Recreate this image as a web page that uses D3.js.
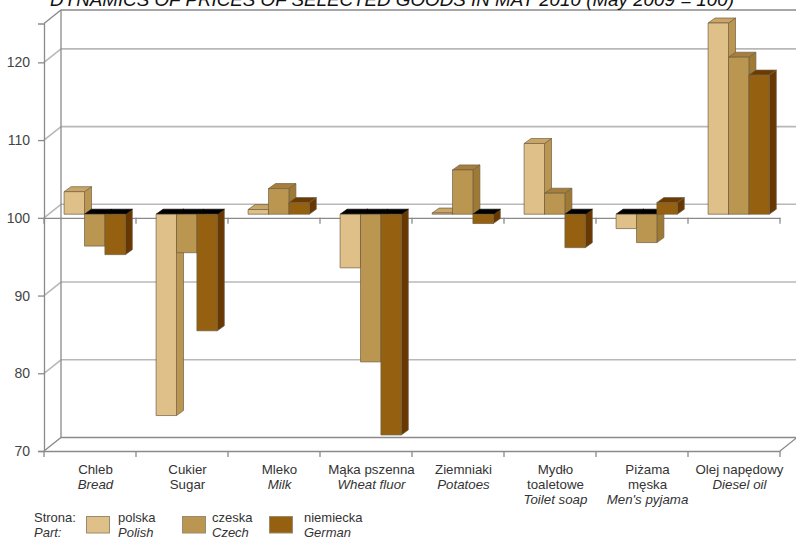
<!DOCTYPE html>
<html>
<head>
<meta charset="utf-8">
<style>
html, body { margin: 0; padding: 0; background: #fff; }
svg { display: block; font-family: "Liberation Sans", Arial, sans-serif; }
.axis text { font-size: 14px; fill: #444; }
.grid { stroke: #b8b8b8; stroke-width: 1.6; fill: none; }
.frame { stroke: #8a8a8a; stroke-width: 1.3; fill: none; }
</style>
<script src="https://cdn.jsdelivr.net/npm/d3@7"></script>
</head>
<body>
<svg id="chart" width="796" height="538"></svg>
<script>
const categories = ["Chleb", "Cukier", "Mleko", "Mąka pszenna", "Ziemniaki", "Mydło toaletowe", "Piżama męska", "Olej napędowy"];
const labelLines = [
  ["Chleb"], ["Cukier"], ["Mleko"], ["Mąka pszenna"], ["Ziemniaki"],
  ["Mydło", "toaletowe"], ["Piżama", "męska"], ["Olej napędowy"]
];
const labelEnglish = ["Bread", "Sugar", "Milk", "Wheat fluor", "Potatoes", "Toilet soap", "Men's pyjama", "Diesel oil"];
const uprightEnglish = ["Sugar"];
const seriesNames = ["polska", "czeska", "niemiecka"];
const seriesEnglish = ["Polish", "Czech", "German"];
const polish = [102.9, 74.1, 100.6, 93.1, 100.15, 109.1, 98.15, 124.6];
const czech = [95.9, 95.05, 103.3, 81, 105.7, 102.7, 96.35, 120.2];
const german = [94.8, 85, 101.5, 71.6, 98.8, 95.7, 101.5, 117.9];
const seriesValues = [polish, czech, german];
const frontColors = ["#dfc088", "#bb9650", "#956110"];
const sideColors = ["#bb9650", "#a07a35", "#683800"];
const capColors = ["#c9a566", "#a67f3c", "#6b3b00"];
const yTicks = [70, 80, 90, 100, 110, 120];

const svg = d3.select("#chart");

const y = d3.scaleLinear().domain([70, 125]).range([451, 23.5]);
const x = d3.scaleBand().domain(categories).range([44, 780]);
const inner = d3.scaleBand().domain(seriesNames).range([15.4, 76.6]);

// Offset of the rear wall and of the bar row inside the box
const wall = { dx: 17, dy: -13.5 };
const row = { dx: 4.7, dy: -3.6 };
const depth = { dx: 7, dy: -5 };

// Rear wall gridlines and their connectors to the front edge
const walls = svg.append("g");
yTicks.forEach(t => {
  const yy = y(t);
  if (t !== 70) {
    walls.append("line").attr("class", "grid")
      .attr("x1", 44).attr("y1", yy).attr("x2", 44 + wall.dx).attr("y2", yy + wall.dy);
    walls.append("line").attr("class", "grid")
      .attr("x1", 44 + wall.dx).attr("y1", yy + wall.dy).attr("x2", 780 + wall.dx).attr("y2", yy + wall.dy);
  }
});
walls.append("path").attr("class", "frame")
  .attr("d", `M44,${y(70)}L${44 + wall.dx},${y(70) + wall.dy}L${780 + wall.dx},${y(70) + wall.dy}L${780},${y(70)}`);
walls.append("path").attr("class", "frame")
  .attr("d", `M44,${y(125)}L${44 + wall.dx},${y(125) + wall.dy}L${780 + wall.dx},${y(125) + wall.dy}`);
walls.append("line").attr("class", "frame")
  .attr("x1", 44 + wall.dx).attr("y1", y(125) + wall.dy)
  .attr("x2", 44 + wall.dx).attr("y2", y(70) + wall.dy);

// Value axis along the front left edge
const yAxis = svg.append("g").attr("class", "axis")
  .attr("transform", "translate(44,0)")
  .call(d3.axisLeft(y).tickValues(yTicks).tickSize(6).tickPadding(8));
yAxis.select(".domain").attr("stroke", "#8a8a8a").attr("stroke-width", 1.3);
yAxis.selectAll(".tick line").attr("stroke", "#8a8a8a").attr("stroke-width", 1.3);

// Category ticks on the floor at 100 and on the bottom edge
[100, 70].forEach(t => {
  const g = svg.append("g").attr("transform", `translate(0,${y(t)})`)
    .call(d3.axisBottom(x).tickValues([]).tickSize(0));
  g.select(".domain").attr("stroke", "#8a8a8a").attr("stroke-width", 1.3);
  g.selectAll(".boundary").data(d3.range(categories.length + 1)).join("line")
    .attr("x1", i => x.range()[0] + i * x.step()).attr("x2", i => x.range()[0] + i * x.step())
    .attr("y1", 0).attr("y2", 6)
    .attr("stroke", "#8a8a8a").attr("stroke-width", 1.3);
});

// Extruded bars, drawn series by series so nearer neighbours overlap
const baseline = y(100);
const bars = svg.append("g").attr("transform", `translate(${row.dx},${row.dy})`);
categories.forEach((c, ci) => {
  seriesNames.forEach((s, si) => {
    const v = seriesValues[si][ci];
    const x0 = x(c) + inner(s);
    const x1 = x0 + inner.bandwidth();
    const yv = y(v);
    const top = Math.min(yv, baseline);
    const bottom = Math.max(yv, baseline);
    const g = bars.append("g").attr("stroke", "#6f5f45").attr("stroke-width", 0.7).attr("stroke-linejoin", "round");
    g.append("path").attr("fill", sideColors[si])
      .attr("d", `M${x1},${top}L${x1 + depth.dx},${top + depth.dy}L${x1 + depth.dx},${bottom + depth.dy}L${x1},${bottom}Z`);
    // A falling bar shows the dark inside of its opening instead of a lit cap
    g.append("path").attr("fill", v < 100 ? "#000" : capColors[si])
      .attr("stroke", v < 100 ? "#000" : null)
      .attr("d", `M${x0},${top}L${x0 + depth.dx},${top + depth.dy}L${x1 + depth.dx},${top + depth.dy}L${x1},${top}Z`);
    g.append("rect").attr("fill", frontColors[si])
      .attr("x", x0).attr("y", top).attr("width", x1 - x0).attr("height", bottom - top);
  });
});

// Category captions: Polish name, then the English one
const captions = svg.append("g").attr("text-anchor", "middle").attr("font-size", 13.3).attr("fill", "#333");
categories.forEach((c, ci) => {
  const cx = x(c) + x.bandwidth() / 2 + 5.5;
  const lines = labelLines[ci];
  lines.forEach((t, i) => captions.append("text").attr("x", cx).attr("y", 474 + i * 15).text(t));
  captions.append("text").attr("x", cx).attr("y", 474 + lines.length * 15)
    .attr("font-style", uprightEnglish.includes(labelEnglish[ci]) ? "normal" : "italic")
    .text(labelEnglish[ci]);
});

// Title, running off the top edge of the page
svg.append("text").attr("x", 392).attr("y", 6).attr("text-anchor", "middle")
  .attr("font-size", 18.8).attr("font-style", "italic").attr("fill", "#111")
  .text("DYNAMICS OF PRICES OF SELECTED GOODS IN MAY 2010 (May 2009 = 100)");

// Legend
const legend = svg.append("g").attr("font-size", 13).attr("fill", "#333");
legend.append("text").attr("x", 34).attr("y", 522).text("Strona:");
legend.append("text").attr("x", 34).attr("y", 537).attr("font-style", "italic").text("Part:");
const swatchX = [86.5, 182.5, 269.5];
const legendTextX = [118, 212, 304];
seriesNames.forEach((s, i) => {
  legend.append("rect").attr("x", swatchX[i]).attr("y", 516.5).attr("width", 23).attr("height", 16.5)
    .attr("fill", frontColors[i]).attr("stroke", "#9a8a70").attr("stroke-width", 1);
  legend.append("text").attr("x", legendTextX[i]).attr("y", 522).text(s);
  legend.append("text").attr("x", legendTextX[i]).attr("y", 537).attr("font-style", "italic").text(seriesEnglish[i]);
});
</script>
</body>
</html>
